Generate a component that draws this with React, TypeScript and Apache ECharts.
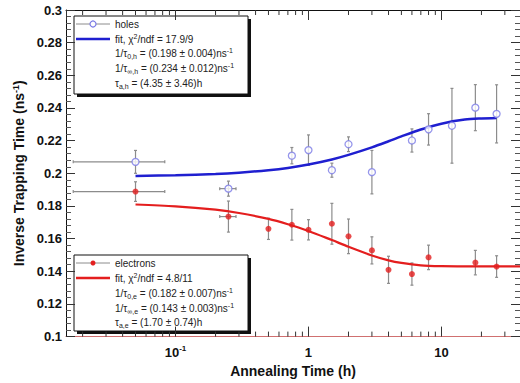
import React, { useEffect, useRef } from 'react';
import * as echarts from 'echarts';

// ---- data ----
const holesX = [0.05, 0.25, 0.75, 1, 1.5, 2, 3, 6, 8, 12, 18, 26];
const holesY = [0.207, 0.1906, 0.2108, 0.2142, 0.2019, 0.2178, 0.2007, 0.2201, 0.2269, 0.2291, 0.2402, 0.2364];
const holesYErr = [0.007, 0.0046, 0.005, 0.0093, 0.0043, 0.0045, 0.0133, 0.0071, 0.0096, 0.0229, 0.0141, 0.0178];
const holesXErr = [0.033, 0.035, 0, 0, 0, 0, 0, 0, 0, 0, 0, 0];

const electronsX = [0.05, 0.25, 0.5, 0.75, 1, 1.5, 2, 3, 4, 6, 8, 18, 26];
const electronsY = [0.1888, 0.1735, 0.166, 0.1685, 0.1654, 0.1691, 0.1614, 0.1528, 0.1409, 0.1383, 0.1485, 0.1453, 0.1429];
const electronsYErr = [0.006, 0.0095, 0.0065, 0.0094, 0.0062, 0.0125, 0.0106, 0.0083, 0.0083, 0.0068, 0.0075, 0.0075, 0.0066];
const electronsXErr = [0.033, 0.035, 0, 0, 0, 0, 0, 0, 0, 0, 0, 0, 0];

const holesFitX = [0.05, 0.1, 0.2, 0.3, 0.5, 0.7, 1, 1.5, 2, 3, 4, 5, 7, 10, 15, 20, 26];
const holesFitY = [0.1984, 0.1988, 0.1996, 0.2004, 0.2019, 0.2033, 0.2054, 0.2085, 0.2113, 0.2159, 0.2196, 0.2226, 0.2268, 0.2304, 0.2329, 0.2336, 0.2339];

const electronsFitX = [0.05, 0.1, 0.2, 0.3, 0.5, 0.7, 1, 1.5, 2, 3, 4, 5, 7, 10, 15, 39];
const electronsFitY = [0.1809, 0.1798, 0.1777, 0.1757, 0.1721, 0.1688, 0.1647, 0.1591, 0.155, 0.1497, 0.1467, 0.1451, 0.1436, 0.1431, 0.143, 0.143];

const xMinorTicks = [0.02, 0.03, 0.04, 0.05, 0.06, 0.07, 0.08, 0.09, 0.2, 0.3, 0.4, 0.5, 0.6, 0.7, 0.8, 0.9, 2, 3, 4, 5, 6, 7, 8, 9, 20, 30];

const holesLegend = [
  'holes',
  'fit, χ{sup|2}/ndf = 17.9/9',
  '1/τ{sub|0,h} = (0.198 ± 0.004)ns{sup|-1}',
  '1/τ{sub|∞,h} = (0.234 ± 0.012)ns{sup|-1}',
  'τ{sub|a,h} = (4.35 ± 3.46)h',
];
const electronsLegend = [
  'electrons',
  'fit, χ{sup|2}/ndf = 4.8/11',
  '1/τ{sub|0,e} = (0.182 ± 0.007)ns{sup|-1}',
  '1/τ{sub|∞,e} = (0.143 ± 0.003)ns{sup|-1}',
  'τ{sub|a,e} = (1.70 ± 0.74)h',
];

const FONT = '"Liberation Sans", Arial, Helvetica, sans-serif';
const BLUE = '#1f1fd0';
const RED = '#e41e1e';
const MARK_BLUE = '#7b7be6';
const ERR = '#8c8c8c';

function errorRender(params: any, api: any) {
  const x = api.value(0);
  const y = api.value(1);
  const xe = api.value(2);
  const ye = api.value(3);
  const top = api.coord([x, y + ye]);
  const bot = api.coord([x, y - ye]);
  const style = { stroke: ERR, lineWidth: 1.2 };
  const children: any[] = [
    { type: 'line', shape: { x1: top[0], y1: top[1], x2: bot[0], y2: bot[1] }, style },
    { type: 'line', shape: { x1: top[0] - 1.5, y1: top[1], x2: top[0] + 1.5, y2: top[1] }, style },
    { type: 'line', shape: { x1: bot[0] - 1.5, y1: bot[1], x2: bot[0] + 1.5, y2: bot[1] }, style },
  ];
  if (xe > 0) {
    const l = api.coord([x - xe, y]);
    const r = api.coord([x + xe, y]);
    children.push({ type: 'line', shape: { x1: l[0], y1: l[1], x2: r[0], y2: r[1] }, style });
    children.push({ type: 'line', shape: { x1: l[0], y1: l[1] - 1.5, x2: l[0], y2: l[1] + 1.5 }, style });
    children.push({ type: 'line', shape: { x1: r[0], y1: r[1] - 1.5, x2: r[0], y2: r[1] + 1.5 }, style });
  }
  return { type: 'group', children };
}

function minorTickRender(params: any, api: any) {
  const v = api.value(0);
  const cs = params.coordSys;
  const px = api.coord([v, 0.2])[0];
  const yb = cs.y + cs.height;
  const yt = cs.y;
  const style = { stroke: '#333', lineWidth: 1 };
  return {
    type: 'group',
    children: [
      { type: 'line', shape: { x1: px, y1: yb, x2: px, y2: yb - 5 }, style },
      { type: 'line', shape: { x1: px, y1: yt, x2: px, y2: yt + 5 }, style },
    ],
  };
}

const legendRich = {
  sub: { fontSize: 7, fontFamily: FONT, fill: '#222', verticalAlign: 'bottom' },
  sup: { fontSize: 7, fontFamily: FONT, fill: '#222', verticalAlign: 'top' },
};

function legendBlock(x0: number, y0: number, w: number, h: number, rows: number[], lines: string[], color: string, markColor: string, filled: boolean) {
  const els: any[] = [
    { type: 'rect', shape: { x: x0 + 3, y: y0 + 3, width: w, height: h }, style: { fill: '#111' } },
    { type: 'rect', shape: { x: x0, y: y0, width: w, height: h }, style: { fill: '#fff', stroke: '#111', lineWidth: 1 } },
    { type: 'line', shape: { x1: x0 + 2, y1: rows[0], x2: x0 + 36, y2: rows[0] }, style: { stroke: ERR, lineWidth: 1 } },
    {
      type: 'circle',
      shape: { cx: x0 + 19, cy: rows[0], r: filled ? 2.5 : 3 },
      style: filled ? { fill: markColor } : { fill: '#fff', stroke: markColor, lineWidth: 1.2 },
    },
    { type: 'line', shape: { x1: x0 + 2, y1: rows[1], x2: x0 + 36, y2: rows[1] }, style: { stroke: color, lineWidth: 2.5 } },
  ];
  lines.forEach((t, i) => {
    els.push({
      type: 'text',
      x: i < 2 ? x0 + 41 : x0 + 41 + 0,
      y: rows[i],
      style: {
        text: t,
        fontSize: 10,
        fontFamily: FONT,
        fill: '#222',
        verticalAlign: 'middle',
        lineHeight: 13,
        rich: legendRich,
      },
    });
  });
  return els;
}

export default function App() {
  const ref = useRef<HTMLDivElement>(null);
  useEffect(() => {
    document.body.style.margin = '0';
    const chart = echarts.init(ref.current!, null, { renderer: 'svg' });
    const axisLabelFont = { fontWeight: 'bold' as const, fontSize: 13, color: '#111', fontFamily: FONT };
    const option: any = {
      animation: false,
      backgroundColor: '#fff',
      grid: { left: 66, right: 0, top: 10, bottom: 42 },
      xAxis: [
        {
          type: 'log',
          logBase: 10,
          min: 0.015,
          max: 39,
          position: 'bottom',
          axisLine: { show: true, lineStyle: { color: '#d07070', width: 1.2 } },
          axisTick: { show: true, inside: true, length: 10, lineStyle: { color: '#333' } },
          splitLine: { show: false },
          minorTick: { show: false },
          axisLabel: {
            margin: 8,
            showMinLabel: false,
            showMaxLabel: false,
            formatter: (v: number) => {
              const l = Math.log10(v);
              const r = Math.round(l);
              if (Math.abs(l - r) > 1e-6) return '';
              if (r < 0) return '{b|10}{s|' + r + '}';
              return '{b|' + Math.round(Math.pow(10, r)) + '}';
            },
            rich: {
              b: { ...axisLabelFont, lineHeight: 16 },
              s: { fontSize: 8, fontWeight: 'bold', color: '#111', fontFamily: FONT, verticalAlign: 'top' },
            },
          },
          name: 'Annealing Time (h)',
          nameLocation: 'middle',
          nameGap: 24,
          nameTextStyle: { fontWeight: 'bold', fontSize: 14, color: '#111', fontFamily: FONT },
        },
        {
          type: 'log',
          logBase: 10,
          min: 0.015,
          max: 39,
          position: 'top',
          axisLine: { show: true, lineStyle: { color: '#111' } },
          axisTick: { show: true, inside: true, length: 10, lineStyle: { color: '#333' } },
          axisLabel: { show: false },
          splitLine: { show: false },
        },
      ],
      yAxis: [
        {
          type: 'value',
          min: 0.1,
          max: 0.3,
          interval: 0.02,
          position: 'left',
          axisLine: { show: true, lineStyle: { color: '#111' } },
          axisTick: { show: true, inside: true, length: 9, lineStyle: { color: '#333' } },
          minorTick: { show: true, splitNumber: 5, length: 5, lineStyle: { color: '#555' } },
          splitLine: { show: false },
          axisLabel: { ...axisLabelFont, margin: 4 },
          name: 'Inverse Trapping Time (ns{sup|-1})',
          nameLocation: 'middle',
          nameGap: 34,
          nameTextStyle: {
            fontWeight: 'bold',
            fontSize: 14,
            color: '#111',
            fontFamily: FONT,
            rich: { sup: { fontSize: 9, fontWeight: 'bold', color: '#111', fontFamily: FONT, verticalAlign: 'top' } },
          },
        },
        {
          type: 'value',
          min: 0.1,
          max: 0.3,
          interval: 0.02,
          position: 'right',
          axisLine: { show: true, lineStyle: { color: '#111' } },
          axisTick: { show: true, inside: true, length: 9, lineStyle: { color: '#333' } },
          minorTick: { show: true, splitNumber: 5, length: 5, lineStyle: { color: '#555' } },
          splitLine: { show: false },
          axisLabel: { show: false },
        },
      ],
      series: [
        {
          type: 'custom',
          renderItem: minorTickRender,
          data: xMinorTicks.map((v) => [v]),
          clip: false,
          silent: true,
          z: 1,
        },
        {
          type: 'custom',
          renderItem: errorRender,
          data: holesX.map((x, i) => [x, holesY[i], holesXErr[i], holesYErr[i]]),
          z: 2,
        },
        {
          type: 'custom',
          renderItem: errorRender,
          data: electronsX.map((x, i) => [x, electronsY[i], electronsXErr[i], electronsYErr[i]]),
          z: 2,
        },
        {
          type: 'line',
          data: holesFitX.map((x, i) => [x, holesFitY[i]]),
          showSymbol: false,
          smooth: 0.3,
          lineStyle: { color: BLUE, width: 2.5 },
          z: 3,
        },
        {
          type: 'line',
          data: electronsFitX.map((x, i) => [x, electronsFitY[i]]),
          showSymbol: false,
          smooth: 0.3,
          lineStyle: { color: RED, width: 2.2 },
          z: 3,
        },
        {
          type: 'scatter',
          data: holesX.map((x, i) => [x, holesY[i]]),
          symbol: 'circle',
          symbolSize: 7,
          itemStyle: { color: '#fff', borderColor: MARK_BLUE, borderWidth: 1.3 },
          z: 4,
        },
        {
          type: 'scatter',
          data: electronsX.map((x, i) => [x, electronsY[i]]),
          symbol: 'circle',
          symbolSize: 6,
          itemStyle: { color: RED },
          z: 4,
        },
      ],
      graphic: [
        ...legendBlock(74, 16, 174, 78, [24, 39, 53, 68, 83], holesLegend, BLUE, MARK_BLUE, false),
        ...legendBlock(74, 255, 174, 76, [263, 278, 293, 308, 322], electronsLegend, RED, RED, true),
      ],
    };
    chart.setOption(option);
    return () => chart.dispose();
  }, []);
  return <div ref={ref} style={{ width: 520, height: 383 }} />;
}
